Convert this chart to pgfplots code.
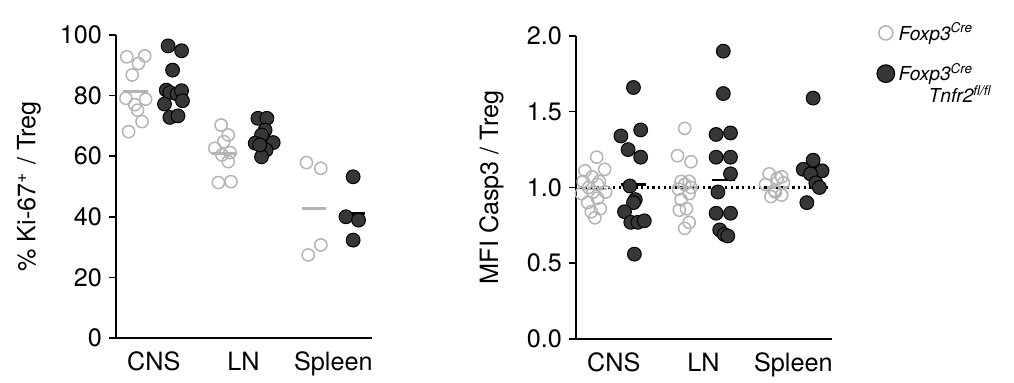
\documentclass[border=0pt]{standalone}
\usepackage{fontspec}
\setmainfont{TeX Gyre Heros}
\usepackage{pgfplots}
\pgfplotsset{compat=1.18}
\definecolor{opengray}{RGB}{180,180,180}
\definecolor{filldark}{RGB}{55,55,55}
\pgfplotsset{
  myaxis/.style={
    scale only axis, width=128pt, height=151.5pt,
    axis x line=bottom, axis y line=left,
    axis line style={line width=0.75pt, -},
    xmin=-0.42, xmax=2.43,
    xtick={0,1,2}, xticklabels={CNS,LN,Spleen},
    x tick style={draw=none},
    y tick style={line width=0.75pt, black},
    tick align=outside, major tick length=3.5pt,
    ticklabel style={font=\fontsize{12.6}{14}\selectfont},
    label style={font=\fontsize{12.6}{14}\selectfont},
    /pgf/number format/assume math mode=true,
    clip=false,
  },
  openpt/.style={only marks, mark=o, mark size=3.05pt, mark options={draw=opengray, line width=0.75pt}, forget plot},
  fillpt/.style={only marks, mark=*, mark size=3.45pt, mark options={draw=black, fill=filldark, line width=0.5pt}, forget plot},
  openmean/.style={opengray, line width=1.3pt, forget plot},
  fillmean/.style={black, line width=1.3pt, forget plot},
}
\begin{document}
\begin{tikzpicture}
\path[use as bounding box] (0pt,0pt) rectangle (507pt,191.5pt);
% ---------------- left panel ----------------
\begin{axis}[myaxis, at={(58pt,22.5pt)}, anchor=south west,
  ymin=0, ymax=100, ytick={0,20,40,60,80,100},
  ylabel={\% Ki-67\textsuperscript{+} / Treg},
  ylabel style={at={(axis description cs:-0.34,0.5)}, anchor=center},
]
% CNS
\addplot[openpt] coordinates {(-0.30,92.8) (-0.10,93.1) (-0.17,90.6) (-0.24,86.8) (-0.31,79.1) (-0.09,78.8) (-0.21,77.0) (-0.18,75.2) (-0.13,71.4) (-0.28,68.1)};
\addplot[openmean] coordinates {(-0.34,81.3) (-0.06,81.3)};
\addplot[fillmean] coordinates {(0.07,82.4) (0.35,82.4)};
\addplot[fillpt] coordinates {(0.16,96.4) (0.31,94.8) (0.21,88.4) (0.14,81.8) (0.18,81.0) (0.26,80.5) (0.31,81.6) (0.32,78.3) (0.12,77.2) (0.18,72.8) (0.27,73.3)};
% LN
\addplot[openpt] coordinates {(0.75,70.3) (0.83,67.0) (0.78,64.8) (0.68,62.6) (0.85,61.2) (0.76,60.4) (0.83,58.2) (0.72,51.3) (0.86,51.6)};
\addplot[openmean] coordinates {(0.65,60.8) (0.93,60.8)};
\addplot[fillmean] coordinates {(1.08,66.0) (1.36,66.0)};
\addplot[fillpt] coordinates {(1.16,72.5) (1.26,72.5) (1.24,68.6) (1.20,67.0) (1.13,64.3) (1.33,64.5) (1.25,62.0) (1.20,59.8) (1.18,63.7)};
% Spleen
\addplot[openpt] coordinates {(1.70,57.9) (1.86,56.0) (1.86,30.7) (1.72,27.4)};
\addplot[openmean] coordinates {(1.65,42.8) (1.92,42.8)};
\addplot[fillpt] coordinates {(2.22,53.2) (2.14,40.0) (2.28,38.9) (2.22,32.3)};
\addplot[fillmean] coordinates {(2.09,41.1) (2.35,41.1)};
\end{axis}
% ---------------- right panel ----------------
\begin{axis}[myaxis, at={(288pt,22pt)}, anchor=south west,
  ymin=0, ymax=2, ytick={0,0.5,1,1.5,2},
  yticklabel style={/pgf/number format/.cd, fixed, fixed zerofill, precision=1},
  ylabel={MFI Casp3 / Treg},
  ylabel style={at={(axis description cs:-0.33,0.5)}, anchor=center},
  legend style={at={(axis description cs:1.142,1.045)}, anchor=north west,
    draw=none, fill=none, inner sep=0pt,
    font=\fontsize{9.6}{12.4}\selectfont\itshape,
    nodes={inner ysep=0pt, inner xsep=2pt}},
  legend cell align=left,
]
% CNS
\addplot[openpt] coordinates {(-0.19,1.20) (-0.32,1.11) (-0.10,1.12) (-0.24,1.07) (-0.34,1.04) (-0.16,1.04) (-0.28,1.00) (-0.09,0.97) (-0.36,0.96) (-0.18,0.93) (-0.29,0.90) (-0.15,0.86) (-0.25,0.84) (-0.21,0.80) (-0.18,1.02) (-0.23,0.97)};
\addplot[openmean] coordinates {(-0.35,0.99) (-0.07,0.99)};
% LN
\addplot[openpt] coordinates {(0.79,1.39) (0.71,1.21) (0.86,1.17) (0.75,1.04) (0.84,1.04) (0.79,1.02) (0.84,0.96) (0.75,0.92) (0.81,0.86) (0.73,0.85) (0.84,0.77) (0.79,0.73) (0.72,0.99) (0.86,1.00)};
\addplot[openmean] coordinates {(0.65,1.00) (0.93,1.00)};
% Spleen
\addplot[openpt] coordinates {(1.73,1.09) (1.87,1.07) (1.69,1.02) (1.89,1.03) (1.79,0.98) (1.75,0.94) (1.87,0.95) (1.82,1.06) (1.80,0.97)};
\addplot[openmean] coordinates {(1.66,1.00) (1.94,1.00)};
% reference line
\addplot[black, line width=1.2pt, dash pattern=on 1.1pt off 1.7pt, forget plot] coordinates {(-0.38,1) (2.38,1)};
% filled
\addplot[fillmean] coordinates {(0.08,1.02) (0.36,1.02)};
\addplot[fillpt] coordinates {(0.22,1.66) (0.08,1.34) (0.30,1.38) (0.16,1.25) (0.30,1.20) (0.18,1.01) (0.24,0.92) (0.22,0.90) (0.12,0.84) (0.19,0.77) (0.27,0.77) (0.34,0.78) (0.23,0.56)};
\addplot[fillpt] coordinates {(1.22,1.90) (1.22,1.62) (1.14,1.35) (1.30,1.36) (1.14,1.20) (1.30,1.20) (1.30,1.09) (1.16,0.97) (1.14,0.83) (1.30,0.83) (1.18,0.72) (1.23,0.69) (1.27,0.68)};
\addplot[fillmean] coordinates {(1.09,1.05) (1.35,1.05)};
\addplot[fillmean] coordinates {(2.08,1.13) (2.36,1.13)};
\addplot[fillpt] coordinates {(2.22,1.59) (2.22,1.18) (2.11,1.12) (2.32,1.11) (2.19,1.09) (2.25,1.03) (2.29,1.00) (2.15,0.90)};
% legend
\addlegendimage{only marks, mark=o, mark size=3.5pt, mark options={draw=opengray, line width=0.8pt}}
\addlegendentry{Foxp3\textsuperscript{Cre}\strut}
\addlegendimage{empty legend}
\addlegendentry{\strut}
\addlegendimage{only marks, mark=*, mark size=4.4pt, mark options={draw=black, fill=filldark, line width=0.6pt}}
\addlegendentry{Foxp3\textsuperscript{Cre}\strut}
\addlegendimage{empty legend}
\addlegendentry{\hspace{15pt}Tnfr2\textsuperscript{fl/fl}\rule[-3pt]{0pt}{12.5pt}}
\end{axis}
\end{tikzpicture}
\end{document}
